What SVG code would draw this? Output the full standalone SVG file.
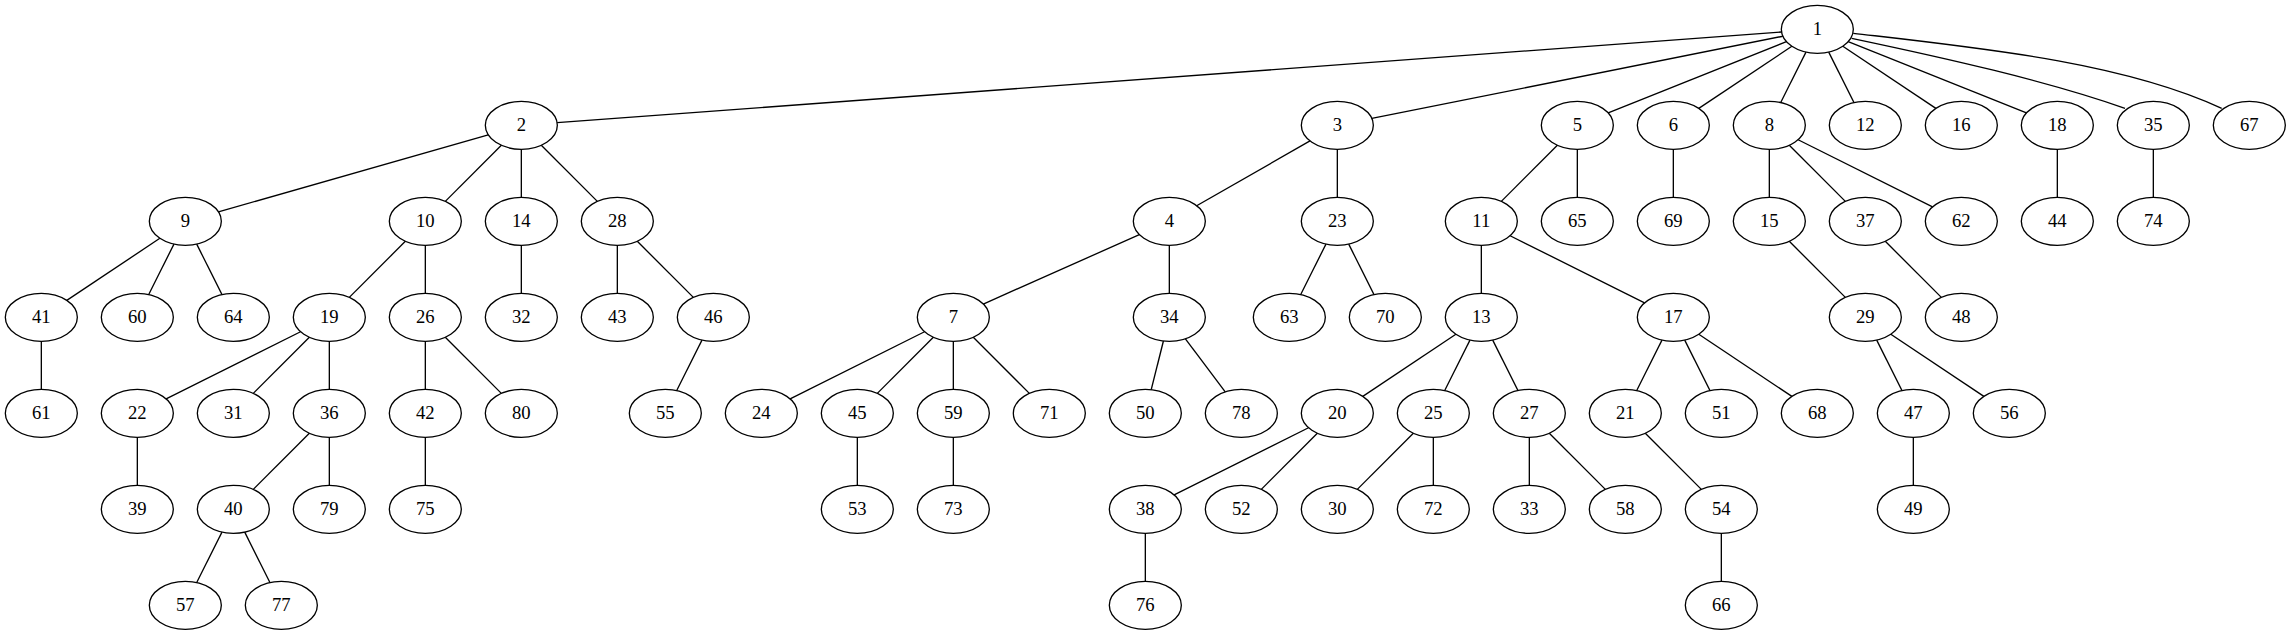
<svg xmlns="http://www.w3.org/2000/svg" width="2291" height="635" viewBox="0 0 2291 635">
<style>
.node ellipse{fill:none;stroke:#000;stroke-width:1.33}
.node text{font-family:"Liberation Serif","Times New Roman",serif;font-size:18.67px;text-anchor:middle;fill:#000}
#edges path{fill:none;stroke:#000;stroke-width:1.33}
</style>
<rect x="0" y="0" width="2291" height="635" fill="#fff"/>
<g id="edges">
<path d="M1781.55,31.98L557.11,122.68"/>
<path d="M1782.85,36.23L1371.81,118.43"/>
<path d="M1786.46,41.68L1608.2,112.98"/>
<path d="M1791.87,46.3L1698.79,108.36"/>
<path d="M1805.95,52.1L1780.71,102.56"/>
<path d="M1828.71,52.1L1853.95,102.56"/>
<path d="M1842.79,46.3L1935.87,108.36"/>
<path d="M1848.2,41.68L2026.46,112.98"/>
<path d="M1851.7,38.3C1945,58 2045,80.3 2125,108.3"/>
<path d="M1853.3,33.3C1980,47.9 2121.7,62 2221.7,108.3"/>
<path d="M488.24,134.79L218.42,211.88"/>
<path d="M501.36,145.3L445.3,201.36"/>
<path d="M521.33,149.33L521.33,197.33"/>
<path d="M541.3,145.3L597.36,201.36"/>
<path d="M1309.99,140.95L1196.67,205.71"/>
<path d="M1337.33,149.33L1337.33,197.33"/>
<path d="M1557.36,145.3L1501.3,201.36"/>
<path d="M1577.33,149.33L1577.33,197.33"/>
<path d="M1673.33,149.33L1673.33,197.33"/>
<path d="M1769.33,149.33L1769.33,197.33"/>
<path d="M1789.3,145.3L1845.36,201.36"/>
<path d="M1798.13,139.73L1932.53,206.93"/>
<path d="M2057.33,149.33L2057.33,197.33"/>
<path d="M2153.33,149.33L2153.33,197.33"/>
<path d="M159.87,238.3L66.79,300.36"/>
<path d="M173.95,244.1L148.71,294.56"/>
<path d="M196.71,244.1L221.95,294.56"/>
<path d="M405.36,241.3L349.3,297.36"/>
<path d="M425.33,245.33L425.33,293.33"/>
<path d="M521.33,245.33L521.33,293.33"/>
<path d="M617.33,245.33L617.33,293.33"/>
<path d="M637.3,241.3L693.36,297.36"/>
<path d="M1139.38,234.64L983.28,304.02"/>
<path d="M1169.33,245.33L1169.33,293.33"/>
<path d="M1325.95,244.1L1300.71,294.56"/>
<path d="M1348.71,244.1L1373.95,294.56"/>
<path d="M1481.33,245.33L1481.33,293.33"/>
<path d="M1510.13,235.73L1644.53,302.93"/>
<path d="M1789.3,241.3L1845.36,297.36"/>
<path d="M1885.3,241.3L1941.36,297.36"/>
<path d="M41.33,341.33L41.33,389.33"/>
<path d="M300.53,331.73L166.13,398.93"/>
<path d="M309.36,337.3L253.3,393.36"/>
<path d="M329.33,341.33L329.33,389.33"/>
<path d="M425.33,341.33L425.33,389.33"/>
<path d="M445.3,337.3L501.36,393.36"/>
<path d="M701.95,340.1L676.71,390.56"/>
<path d="M924.53,331.73L790.13,398.93"/>
<path d="M933.36,337.3L877.3,393.36"/>
<path d="M953.33,341.33L953.33,389.33"/>
<path d="M973.3,337.3L1029.36,393.36"/>
<path d="M1163.41,341L1151.25,389.66"/>
<path d="M1185.43,338.8L1225.23,391.86"/>
<path d="M1455.87,334.3L1362.79,396.36"/>
<path d="M1469.95,340.1L1444.71,390.56"/>
<path d="M1492.71,340.1L1517.95,390.56"/>
<path d="M1661.95,340.1L1636.71,390.56"/>
<path d="M1684.71,340.1L1709.95,390.56"/>
<path d="M1698.79,334.3L1791.87,396.36"/>
<path d="M1876.71,340.1L1901.95,390.56"/>
<path d="M1890.79,334.3L1983.87,396.36"/>
<path d="M137.33,437.33L137.33,485.33"/>
<path d="M309.36,433.3L253.3,489.36"/>
<path d="M329.33,437.33L329.33,485.33"/>
<path d="M425.33,437.33L425.33,485.33"/>
<path d="M857.33,437.33L857.33,485.33"/>
<path d="M953.33,437.33L953.33,485.33"/>
<path d="M1308.53,427.73L1174.13,494.93"/>
<path d="M1317.36,433.3L1261.3,489.36"/>
<path d="M1413.36,433.3L1357.3,489.36"/>
<path d="M1433.33,437.33L1433.33,485.33"/>
<path d="M1529.33,437.33L1529.33,485.33"/>
<path d="M1549.3,433.3L1605.36,489.36"/>
<path d="M1645.3,433.3L1701.36,489.36"/>
<path d="M1913.33,437.33L1913.33,485.33"/>
<path d="M221.95,532.1L196.71,582.56"/>
<path d="M244.71,532.1L269.95,582.56"/>
<path d="M1145.33,533.33L1145.33,581.33"/>
<path d="M1721.33,533.33L1721.33,581.33"/>
</g>
<g id="node1" class="node"><ellipse cx="1817.33" cy="29.33" rx="36" ry="24"/><text x="1817.33" y="34.93">1</text></g>
<g id="node2" class="node"><ellipse cx="521.33" cy="125.33" rx="36" ry="24"/><text x="521.33" y="130.93">2</text></g>
<g id="node3" class="node"><ellipse cx="1337.33" cy="125.33" rx="36" ry="24"/><text x="1337.33" y="130.93">3</text></g>
<g id="node5" class="node"><ellipse cx="1577.33" cy="125.33" rx="36" ry="24"/><text x="1577.33" y="130.93">5</text></g>
<g id="node6" class="node"><ellipse cx="1673.33" cy="125.33" rx="36" ry="24"/><text x="1673.33" y="130.93">6</text></g>
<g id="node8" class="node"><ellipse cx="1769.33" cy="125.33" rx="36" ry="24"/><text x="1769.33" y="130.93">8</text></g>
<g id="node12" class="node"><ellipse cx="1865.33" cy="125.33" rx="36" ry="24"/><text x="1865.33" y="130.93">12</text></g>
<g id="node16" class="node"><ellipse cx="1961.33" cy="125.33" rx="36" ry="24"/><text x="1961.33" y="130.93">16</text></g>
<g id="node18" class="node"><ellipse cx="2057.33" cy="125.33" rx="36" ry="24"/><text x="2057.33" y="130.93">18</text></g>
<g id="node35" class="node"><ellipse cx="2153.33" cy="125.33" rx="36" ry="24"/><text x="2153.33" y="130.93">35</text></g>
<g id="node67" class="node"><ellipse cx="2249.33" cy="125.33" rx="36" ry="24"/><text x="2249.33" y="130.93">67</text></g>
<g id="node9" class="node"><ellipse cx="185.33" cy="221.33" rx="36" ry="24"/><text x="185.33" y="226.93">9</text></g>
<g id="node10" class="node"><ellipse cx="425.33" cy="221.33" rx="36" ry="24"/><text x="425.33" y="226.93">10</text></g>
<g id="node14" class="node"><ellipse cx="521.33" cy="221.33" rx="36" ry="24"/><text x="521.33" y="226.93">14</text></g>
<g id="node28" class="node"><ellipse cx="617.33" cy="221.33" rx="36" ry="24"/><text x="617.33" y="226.93">28</text></g>
<g id="node4" class="node"><ellipse cx="1169.33" cy="221.33" rx="36" ry="24"/><text x="1169.33" y="226.93">4</text></g>
<g id="node23" class="node"><ellipse cx="1337.33" cy="221.33" rx="36" ry="24"/><text x="1337.33" y="226.93">23</text></g>
<g id="node11" class="node"><ellipse cx="1481.33" cy="221.33" rx="36" ry="24"/><text x="1481.33" y="226.93">11</text></g>
<g id="node65" class="node"><ellipse cx="1577.33" cy="221.33" rx="36" ry="24"/><text x="1577.33" y="226.93">65</text></g>
<g id="node69" class="node"><ellipse cx="1673.33" cy="221.33" rx="36" ry="24"/><text x="1673.33" y="226.93">69</text></g>
<g id="node15" class="node"><ellipse cx="1769.33" cy="221.33" rx="36" ry="24"/><text x="1769.33" y="226.93">15</text></g>
<g id="node37" class="node"><ellipse cx="1865.33" cy="221.33" rx="36" ry="24"/><text x="1865.33" y="226.93">37</text></g>
<g id="node62" class="node"><ellipse cx="1961.33" cy="221.33" rx="36" ry="24"/><text x="1961.33" y="226.93">62</text></g>
<g id="node44" class="node"><ellipse cx="2057.33" cy="221.33" rx="36" ry="24"/><text x="2057.33" y="226.93">44</text></g>
<g id="node74" class="node"><ellipse cx="2153.33" cy="221.33" rx="36" ry="24"/><text x="2153.33" y="226.93">74</text></g>
<g id="node41" class="node"><ellipse cx="41.33" cy="317.33" rx="36" ry="24"/><text x="41.33" y="322.93">41</text></g>
<g id="node60" class="node"><ellipse cx="137.33" cy="317.33" rx="36" ry="24"/><text x="137.33" y="322.93">60</text></g>
<g id="node64" class="node"><ellipse cx="233.33" cy="317.33" rx="36" ry="24"/><text x="233.33" y="322.93">64</text></g>
<g id="node19" class="node"><ellipse cx="329.33" cy="317.33" rx="36" ry="24"/><text x="329.33" y="322.93">19</text></g>
<g id="node26" class="node"><ellipse cx="425.33" cy="317.33" rx="36" ry="24"/><text x="425.33" y="322.93">26</text></g>
<g id="node32" class="node"><ellipse cx="521.33" cy="317.33" rx="36" ry="24"/><text x="521.33" y="322.93">32</text></g>
<g id="node43" class="node"><ellipse cx="617.33" cy="317.33" rx="36" ry="24"/><text x="617.33" y="322.93">43</text></g>
<g id="node46" class="node"><ellipse cx="713.33" cy="317.33" rx="36" ry="24"/><text x="713.33" y="322.93">46</text></g>
<g id="node7" class="node"><ellipse cx="953.33" cy="317.33" rx="36" ry="24"/><text x="953.33" y="322.93">7</text></g>
<g id="node34" class="node"><ellipse cx="1169.33" cy="317.33" rx="36" ry="24"/><text x="1169.33" y="322.93">34</text></g>
<g id="node63" class="node"><ellipse cx="1289.33" cy="317.33" rx="36" ry="24"/><text x="1289.33" y="322.93">63</text></g>
<g id="node70" class="node"><ellipse cx="1385.33" cy="317.33" rx="36" ry="24"/><text x="1385.33" y="322.93">70</text></g>
<g id="node13" class="node"><ellipse cx="1481.33" cy="317.33" rx="36" ry="24"/><text x="1481.33" y="322.93">13</text></g>
<g id="node17" class="node"><ellipse cx="1673.33" cy="317.33" rx="36" ry="24"/><text x="1673.33" y="322.93">17</text></g>
<g id="node29" class="node"><ellipse cx="1865.33" cy="317.33" rx="36" ry="24"/><text x="1865.33" y="322.93">29</text></g>
<g id="node48" class="node"><ellipse cx="1961.33" cy="317.33" rx="36" ry="24"/><text x="1961.33" y="322.93">48</text></g>
<g id="node61" class="node"><ellipse cx="41.33" cy="413.33" rx="36" ry="24"/><text x="41.33" y="418.93">61</text></g>
<g id="node22" class="node"><ellipse cx="137.33" cy="413.33" rx="36" ry="24"/><text x="137.33" y="418.93">22</text></g>
<g id="node31" class="node"><ellipse cx="233.33" cy="413.33" rx="36" ry="24"/><text x="233.33" y="418.93">31</text></g>
<g id="node36" class="node"><ellipse cx="329.33" cy="413.33" rx="36" ry="24"/><text x="329.33" y="418.93">36</text></g>
<g id="node42" class="node"><ellipse cx="425.33" cy="413.33" rx="36" ry="24"/><text x="425.33" y="418.93">42</text></g>
<g id="node80" class="node"><ellipse cx="521.33" cy="413.33" rx="36" ry="24"/><text x="521.33" y="418.93">80</text></g>
<g id="node55" class="node"><ellipse cx="665.33" cy="413.33" rx="36" ry="24"/><text x="665.33" y="418.93">55</text></g>
<g id="node24" class="node"><ellipse cx="761.33" cy="413.33" rx="36" ry="24"/><text x="761.33" y="418.93">24</text></g>
<g id="node45" class="node"><ellipse cx="857.33" cy="413.33" rx="36" ry="24"/><text x="857.33" y="418.93">45</text></g>
<g id="node59" class="node"><ellipse cx="953.33" cy="413.33" rx="36" ry="24"/><text x="953.33" y="418.93">59</text></g>
<g id="node71" class="node"><ellipse cx="1049.33" cy="413.33" rx="36" ry="24"/><text x="1049.33" y="418.93">71</text></g>
<g id="node50" class="node"><ellipse cx="1145.33" cy="413.33" rx="36" ry="24"/><text x="1145.33" y="418.93">50</text></g>
<g id="node78" class="node"><ellipse cx="1241.33" cy="413.33" rx="36" ry="24"/><text x="1241.33" y="418.93">78</text></g>
<g id="node20" class="node"><ellipse cx="1337.33" cy="413.33" rx="36" ry="24"/><text x="1337.33" y="418.93">20</text></g>
<g id="node25" class="node"><ellipse cx="1433.33" cy="413.33" rx="36" ry="24"/><text x="1433.33" y="418.93">25</text></g>
<g id="node27" class="node"><ellipse cx="1529.33" cy="413.33" rx="36" ry="24"/><text x="1529.33" y="418.93">27</text></g>
<g id="node21" class="node"><ellipse cx="1625.33" cy="413.33" rx="36" ry="24"/><text x="1625.33" y="418.93">21</text></g>
<g id="node51" class="node"><ellipse cx="1721.33" cy="413.33" rx="36" ry="24"/><text x="1721.33" y="418.93">51</text></g>
<g id="node68" class="node"><ellipse cx="1817.33" cy="413.33" rx="36" ry="24"/><text x="1817.33" y="418.93">68</text></g>
<g id="node47" class="node"><ellipse cx="1913.33" cy="413.33" rx="36" ry="24"/><text x="1913.33" y="418.93">47</text></g>
<g id="node56" class="node"><ellipse cx="2009.33" cy="413.33" rx="36" ry="24"/><text x="2009.33" y="418.93">56</text></g>
<g id="node39" class="node"><ellipse cx="137.33" cy="509.33" rx="36" ry="24"/><text x="137.33" y="514.93">39</text></g>
<g id="node40" class="node"><ellipse cx="233.33" cy="509.33" rx="36" ry="24"/><text x="233.33" y="514.93">40</text></g>
<g id="node79" class="node"><ellipse cx="329.33" cy="509.33" rx="36" ry="24"/><text x="329.33" y="514.93">79</text></g>
<g id="node75" class="node"><ellipse cx="425.33" cy="509.33" rx="36" ry="24"/><text x="425.33" y="514.93">75</text></g>
<g id="node53" class="node"><ellipse cx="857.33" cy="509.33" rx="36" ry="24"/><text x="857.33" y="514.93">53</text></g>
<g id="node73" class="node"><ellipse cx="953.33" cy="509.33" rx="36" ry="24"/><text x="953.33" y="514.93">73</text></g>
<g id="node38" class="node"><ellipse cx="1145.33" cy="509.33" rx="36" ry="24"/><text x="1145.33" y="514.93">38</text></g>
<g id="node52" class="node"><ellipse cx="1241.33" cy="509.33" rx="36" ry="24"/><text x="1241.33" y="514.93">52</text></g>
<g id="node30" class="node"><ellipse cx="1337.33" cy="509.33" rx="36" ry="24"/><text x="1337.33" y="514.93">30</text></g>
<g id="node72" class="node"><ellipse cx="1433.33" cy="509.33" rx="36" ry="24"/><text x="1433.33" y="514.93">72</text></g>
<g id="node33" class="node"><ellipse cx="1529.33" cy="509.33" rx="36" ry="24"/><text x="1529.33" y="514.93">33</text></g>
<g id="node58" class="node"><ellipse cx="1625.33" cy="509.33" rx="36" ry="24"/><text x="1625.33" y="514.93">58</text></g>
<g id="node54" class="node"><ellipse cx="1721.33" cy="509.33" rx="36" ry="24"/><text x="1721.33" y="514.93">54</text></g>
<g id="node49" class="node"><ellipse cx="1913.33" cy="509.33" rx="36" ry="24"/><text x="1913.33" y="514.93">49</text></g>
<g id="node57" class="node"><ellipse cx="185.33" cy="605.33" rx="36" ry="24"/><text x="185.33" y="610.93">57</text></g>
<g id="node77" class="node"><ellipse cx="281.33" cy="605.33" rx="36" ry="24"/><text x="281.33" y="610.93">77</text></g>
<g id="node76" class="node"><ellipse cx="1145.33" cy="605.33" rx="36" ry="24"/><text x="1145.33" y="610.93">76</text></g>
<g id="node66" class="node"><ellipse cx="1721.33" cy="605.33" rx="36" ry="24"/><text x="1721.33" y="610.93">66</text></g>
</svg>
